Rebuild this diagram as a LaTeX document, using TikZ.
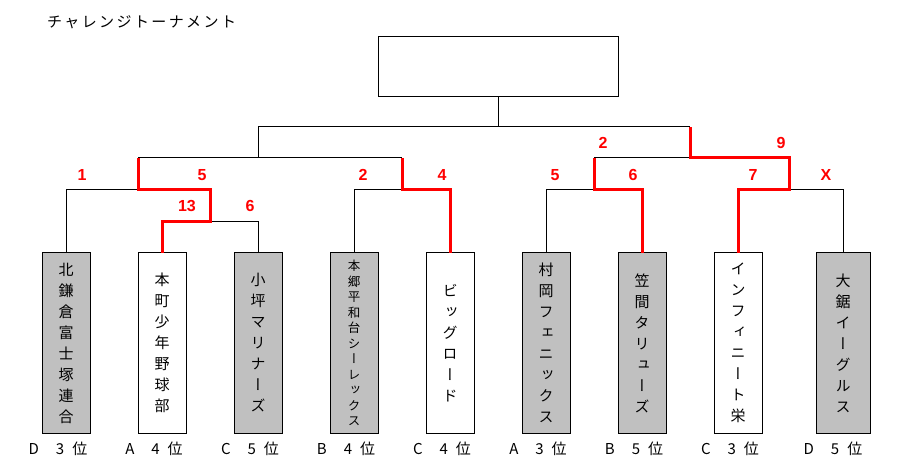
\documentclass[tikz,border=0pt]{standalone}
\usepackage{fontspec}
\usetikzlibrary{positioning}
\newfontfamily\jpfont{Noto Sans CJK JP}
\newfontfamily\jpvert[RawFeature=+vert]{Noto Sans CJK JP}
\newfontfamily\numfont{Liberation Sans}
\definecolor{teamgray}{RGB}{192,192,192}
\tikzset{
    %Define style for team boxes
    team/.style={
           rectangle,
           draw=black, line width=1pt,
           minimum width=48pt,
           minimum height=180pt,
           inner sep=0pt,
           outer sep=0pt,
           align=center,
           font=\jpvert\fontsize{15}{21}\selectfont,
           fill=teamgray},
    teamw/.style={team, fill=white},
    %Define style for the winner box
    final/.style={
           rectangle,
           draw=black, line width=1pt,
           outer sep=0pt,
           minimum width=240pt,
           minimum height=60pt},
    %Define style for texts
    rank/.style={
           inner sep=0pt,
           font=\jpfont\fontsize{15}{18}\selectfont},
    score/.style={
           inner sep=0pt,
           text=red,
           font=\numfont\bfseries\fontsize{16}{18}\selectfont},
    title/.style={
           inner sep=0pt,
           font=\jpfont\fontsize{15}{17}\selectfont\addfontfeature{LetterSpace=16}}
}
\newcommand{\rk}[2]{#1\hspace{17pt}#2\hspace{8pt}位}
\begin{document}
\begin{tikzpicture}[x=1pt,y=-1pt,node distance=48pt,
  line/.style={draw=black, line width=1pt},
  winline/.style={draw=red, line width=3pt}]
\useasboundingbox (0,0) rectangle (898,473);
\node[anchor=west, title](head) at (47,22) {チャレンジトーナメント};
\node[final](win) at (498,67) {};
% teams
\node[team](t1) at (66,343) {北\\鎌\\倉\\富\\士\\塚\\連\\合};
\node[teamw, right=of t1](t2) {本\\町\\少\\年\\野\\球\\部};
\node[team, right=of t2](t3) {小\\坪\\マ\\リ\\ナ\\ー\\ズ};
\node[team, right=of t3, font=\jpvert\fontsize{12.5}{15.5}\selectfont](t4) {本\\郷\\平\\和\\台\\シ\\ー\\レ\\ッ\\ク\\ス};
\node[teamw, right=of t4](t5) {ビ\\ッ\\グ\\ロ\\ー\\ド};
\node[team, right=of t5](t6) {村\\岡\\フ\\ェ\\ニ\\ッ\\ク\\ス};
\node[team, right=of t6](t7) {笠\\間\\タ\\リ\\ュ\\ー\\ズ};
\node[teamw, right=of t7](t8) {イ\\ン\\フ\\ィ\\ニ\\ー\\ト\\栄};
\node[team, right=54pt of t8, minimum width=54pt](t9) {大\\鋸\\イ\\ー\\グ\\ル\\ス};
% ranks
\node[rank, below=9pt of t1, xshift=-8pt](rk1) {\rk{D}{3}};
\node[rank, below=9pt of t2, xshift=-8pt](rk2) {\rk{A}{4}};
\node[rank, below=9pt of t3, xshift=-8pt](rk3) {\rk{C}{5}};
\node[rank, below=9pt of t4, xshift=-8pt](rk4) {\rk{B}{4}};
\node[rank, below=9pt of t5, xshift=-8pt](rk5) {\rk{C}{4}};
\node[rank, below=9pt of t6, xshift=-8pt](rk6) {\rk{A}{3}};
\node[rank, below=9pt of t7, xshift=-8pt](rk7) {\rk{B}{5}};
\node[rank, below=9pt of t8, xshift=-8pt](rk8) {\rk{C}{3}};
\node[rank, below=9pt of t9, xshift=-10pt](rk9) {\rk{D}{5}};
% bracket
\coordinate (m1) at (210,222);
\coordinate (s1) at (138,190);
\coordinate (s2) at (402,190);
\coordinate (s3) at (594,190);
\coordinate (s4) at (789,190);
\coordinate (u1) at (258,158);
\coordinate (u2) at (690,158);
\coordinate (f) at (498,127);
\draw[line] (t1.north) |- (s1);
\draw[line] (t3.north) |- (m1);
\draw[line] (t4.north) |- (s2);
\draw[line] (t6.north) |- (s3);
\draw[line] (t9.north) |- (s4);
\draw[line] (s1 |- u1) -- (s2 |- u1);
\draw[line] (s3 |- u2) -- (u2);
\draw[line] (u1) |- (u2 |- f);
\draw[line] (f) -- (win.south);
\draw[winline] (t2.north) |- (m1) -- (m1 |- s1) -- (s1) -- (s1 |- u1);
\draw[winline] (t5.north) |- (s2) -- (s2 |- u1);
\draw[winline] (t7.north) |- (s3) -- (s3 |- u2);
\draw[winline] (t8.north) |- (s4) -- (s4 |- u2) -- (u2) -- (u2 |- f);
% scores
\node[score](sc1) at (82,175) {1};
\node[score](sc2) at (202,175) {5};
\node[score](sc3) at (187,206) {13};
\node[score](sc4) at (250,206) {6};
\node[score](sc5) at (363,175) {2};
\node[score](sc6) at (442,175) {4};
\node[score](sc7) at (555,175) {5};
\node[score](sc8) at (633,175) {6};
\node[score](sc9) at (603,143) {2};
\node[score](sc10) at (781,143) {9};
\node[score](sc11) at (753,175) {7};
\node[score](sc12) at (826,175) {X};
\end{tikzpicture}
\end{document}
